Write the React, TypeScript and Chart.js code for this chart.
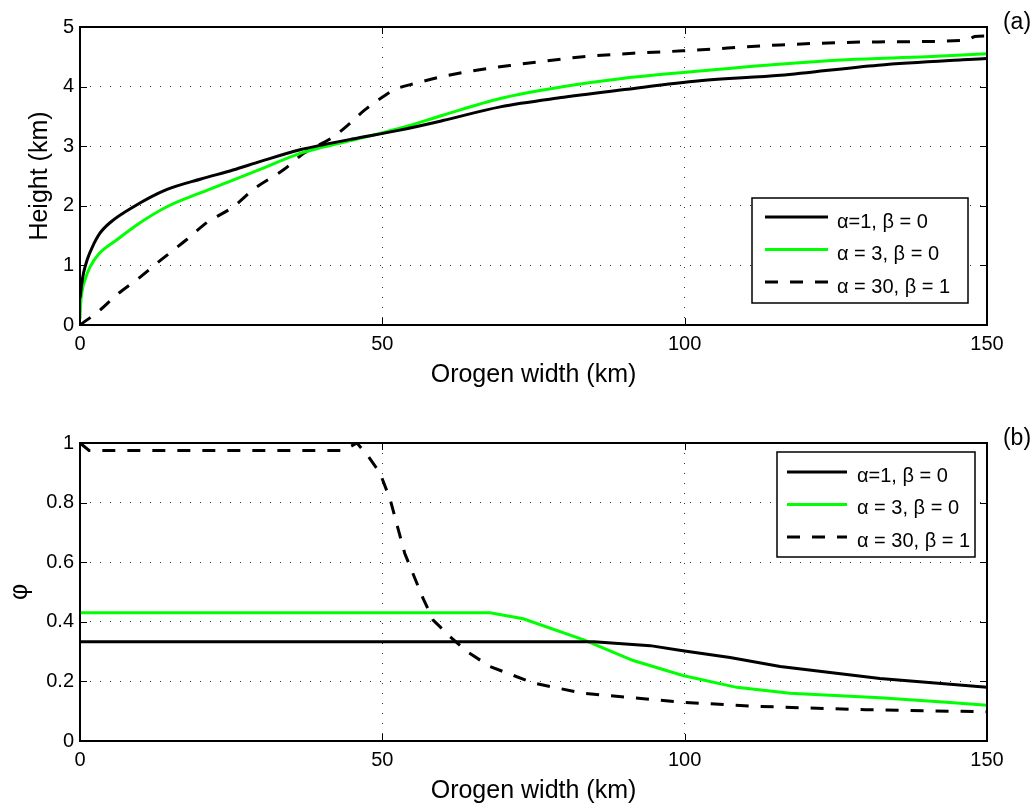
import React, { useEffect, useRef } from "react";
import { Chart, registerables } from "chart.js";

Chart.register(...registerables);

const FONT = "'Liberation Sans', Arial, Helvetica, sans-serif";

// ---- shared series meta ----
const seriesLabels = ["α=1, β = 0", "α = 3, β = 0", "α = 30, β = 1"];
const seriesColors = ["#000000", "#00ff00", "#000000"];
const seriesDashes: number[][] = [[], [], [13, 12]];

// ---- ticks ----
const xTicks = [0, 50, 100, 150];
const heightTicks = [0, 1, 2, 3, 4, 5];
const phiTicks = [0, 0.2, 0.4, 0.6, 0.8, 1];

// ---- panel (a): height (km) vs orogen width (km) ----
const heightA1X = [0, 0.3, 0.6, 1.2, 2, 3.3, 5, 8.8, 14.3, 20, 25.3, 30, 36.4, 40, 45, 52.9, 60, 69.5, 80, 90, 102.5, 115.8, 132, 146, 150];
const heightA1Y = [0.45, 0.7, 0.88, 1.1, 1.3, 1.54, 1.72, 1.98, 2.27, 2.45, 2.6, 2.75, 2.94, 3.02, 3.12, 3.27, 3.43, 3.66, 3.82, 3.95, 4.1, 4.19, 4.36, 4.45, 4.47];

const heightA3X = [0, 0.1, 0.4, 0.8, 1.65, 3, 6.1, 10, 14.3, 20, 25.3, 30, 36.4, 40, 45, 52.9, 60, 69.5, 80, 90, 102.5, 115, 126.8, 140, 150];
const heightA3Y = [0.1, 0.35, 0.6, 0.75, 0.97, 1.18, 1.43, 1.72, 1.98, 2.22, 2.43, 2.62, 2.88, 2.98, 3.1, 3.3, 3.52, 3.8, 4.0, 4.14, 4.26, 4.37, 4.45, 4.5, 4.55];

const heightA30X = [0, 3.3, 6, 9.9, 13.5, 17.6, 21, 25.3, 29, 33.6, 37, 41.8, 44.6, 47, 50.1, 52, 55.7, 60, 64, 71.6, 83.2, 91.5, 99.7, 115.8, 132, 146.7, 148, 150];
const heightA30Y = [0, 0.25, 0.5, 0.8, 1.1, 1.43, 1.72, 1.98, 2.3, 2.6, 2.88, 3.15, 3.38, 3.6, 3.83, 3.95, 4.06, 4.17, 4.25, 4.36, 4.5, 4.56, 4.6, 4.7, 4.75, 4.78, 4.84, 4.85];

// ---- panel (b): phi vs orogen width (km) ----
const phiA1X = [0, 85, 94.3, 99.7, 107.5, 115.8, 132.3, 150];
const phiA1Y = [0.333, 0.333, 0.32, 0.303, 0.28, 0.25, 0.21, 0.18];

const phiA3X = [0, 67.8, 73.3, 83.2, 91.5, 99.7, 108.6, 117.4, 132.3, 143.3, 150];
const phiA3Y = [0.43, 0.43, 0.41, 0.34, 0.27, 0.22, 0.18, 0.16, 0.145, 0.13, 0.12];

const phiA30X = [0, 1.5, 43.5, 45.8, 47.5, 49.6, 51.3, 53.7, 56.7, 58.4, 61.2, 64, 67.8, 74.9, 83.2, 94.3, 99.7, 110.8, 130, 150];
const phiA30Y = [1.0, 0.975, 0.975, 1.0, 0.96, 0.9, 0.81, 0.63, 0.48, 0.406, 0.35, 0.3, 0.25, 0.195, 0.16, 0.14, 0.13, 0.117, 0.105, 0.098];

function makeDatasets(xs: number[][], ys: number[][], smooth: boolean) {
  return xs.map((xArr, k) => ({
    label: seriesLabels[k],
    data: xArr.map((x, i) => ({ x, y: ys[k][i] })),
    borderColor: seriesColors[k],
    backgroundColor: seriesColors[k],
    borderWidth: 3,
    borderDash: seriesDashes[k],
    pointRadius: 0,
    tension: smooth ? 0.4 : 0,
    cubicInterpolationMode: smooth ? "monotone" : "default",
    fill: false,
  }));
}

const framePlugin = {
  id: "frame",
  afterDatasetsDraw(chart: any) {
    const { ctx, chartArea: a, scales } = chart;
    ctx.save();
    ctx.setLineDash([]);
    ctx.strokeStyle = "#000";
    ctx.lineWidth = 1;
    const tl = 7;
    const seg = (x1: number, y1: number, x2: number, y2: number) => {
      ctx.beginPath();
      ctx.moveTo(x1, y1);
      ctx.lineTo(x2, y2);
      ctx.stroke();
    };
    scales.x.ticks.forEach((t: any) => {
      const px = Math.round(scales.x.getPixelForValue(t.value)) + 0.5;
      seg(px, a.bottom, px, a.bottom - tl);
      seg(px, a.top, px, a.top + tl);
    });
    scales.y.ticks.forEach((t: any) => {
      const py = Math.round(scales.y.getPixelForValue(t.value)) + 0.5;
      seg(a.left, py, a.left + tl, py);
      seg(a.right, py, a.right - tl, py);
    });
    ctx.lineWidth = 2;
    ctx.strokeRect(a.left, a.top, a.right - a.left, a.bottom - a.top);
    ctx.restore();
  },
};

const boxLegendPlugin = {
  id: "boxLegend",
  afterDraw(chart: any, _args: any, g: any) {
    if (!g || g.width == null) return;
    const { ctx } = chart;
    ctx.save();
    ctx.setLineDash([]);
    ctx.fillStyle = "#fff";
    ctx.fillRect(g.left, g.top, g.width, g.height);
    ctx.lineWidth = 1.5;
    ctx.strokeStyle = "#000";
    ctx.strokeRect(g.left, g.top, g.width, g.height);
    chart.data.datasets.forEach((ds: any, i: number) => {
      const y = g.firstRow + i * g.rowGap;
      ctx.beginPath();
      ctx.setLineDash(ds.borderDash || []);
      ctx.strokeStyle = ds.borderColor;
      ctx.lineWidth = 3;
      ctx.moveTo(g.lineX, y);
      ctx.lineTo(g.lineX + g.lineLen, y);
      ctx.stroke();
      ctx.setLineDash([]);
      ctx.fillStyle = "#000";
      ctx.font = `20px ${FONT}`;
      ctx.textBaseline = "middle";
      ctx.textAlign = "left";
      ctx.fillText(ds.label, g.textX, y + g.textDy);
    });
    ctx.restore();
  },
};

type PanelProps = {
  top: number;
  height: number;
  padTop: number;
  xAxisHeight: number;
  datasets: any[];
  yTicks: number[];
  yMax: number;
  yTitle: string;
  yTitlePad: number;
  xTitlePad: number;
  legend: any;
};

function Panel(p: PanelProps) {
  const ref = useRef<HTMLCanvasElement | null>(null);
  useEffect(() => {
    if (!ref.current) return;
    const chart = new Chart(ref.current, {
      type: "line",
      data: { datasets: p.datasets },
      plugins: [framePlugin, boxLegendPlugin],
      options: {
        animation: false,
        responsive: false,
        maintainAspectRatio: false,
        events: [],
        layout: { padding: { left: 0, right: 49, top: p.padTop, bottom: 0 } },
        plugins: {
          legend: { display: false },
          tooltip: { enabled: false },
          boxLegend: p.legend,
        } as any,
        scales: {
          x: {
            type: "linear",
            min: 0,
            max: 150,
            afterBuildTicks: (s: any) => {
              s.ticks = xTicks.map((v) => ({ value: v }));
            },
            afterFit: (s: any) => {
              s.height = p.xAxisHeight;
            },
            ticks: {
              autoSkip: false,
              maxRotation: 0,
              padding: 7,
              color: "#000",
              font: { family: FONT, size: 20 },
              callback: (v: any) => String(v),
            },
            grid: { color: "#333", lineWidth: 1, drawTicks: false, borderDash: [1, 9] } as any,
            border: { display: false, dash: [1, 9] },
            title: {
              display: true,
              text: "Orogen width (km)",
              color: "#000",
              font: { family: FONT, size: 25, lineHeight: 1 },
              padding: { top: 0, bottom: p.xTitlePad },
            },
          },
          y: {
            type: "linear",
            min: 0,
            max: p.yMax,
            afterBuildTicks: (s: any) => {
              s.ticks = p.yTicks.map((v) => ({ value: v }));
            },
            afterFit: (s: any) => {
              s.width = 80;
            },
            ticks: {
              padding: 6,
              color: "#000",
              font: { family: FONT, size: 20 },
              callback: (v: any) => String(v),
            },
            grid: { color: "#333", lineWidth: 1, drawTicks: false, borderDash: [1, 9] } as any,
            border: { display: false, dash: [1, 9] },
            title: {
              display: true,
              text: p.yTitle,
              color: "#000",
              font: { family: FONT, size: 25, lineHeight: 1 },
              padding: { top: p.yTitlePad, bottom: 0 },
            },
          },
        },
      },
    } as any);
    return () => chart.destroy();
  }, []);
  return (
    <canvas
      ref={ref}
      width={1036}
      height={p.height}
      style={{ position: "absolute", left: 0, top: p.top, width: 1036, height: p.height, display: "block" }}
    />
  );
}

const labelStyle = (x: number, y: number): React.CSSProperties => ({
  position: "absolute",
  left: x,
  top: y,
  transform: "translate(-50%, -50%)",
  fontFamily: FONT,
  fontSize: 23,
  color: "#000",
  lineHeight: 1,
  whiteSpace: "nowrap",
});

export default function App() {
  const dsA = makeDatasets([heightA1X, heightA3X, heightA30X], [heightA1Y, heightA3Y, heightA30Y], true);
  const dsB = makeDatasets([phiA1X, phiA3X, phiA30X], [phiA1Y, phiA3Y, phiA30Y], false);
  return (
    <div
      style={{
        position: "absolute",
        left: 0,
        top: 0,
        width: 1036,
        height: 804,
        overflow: "hidden",
        background: "#fff",
      }}
    >
      <Panel
        top={0}
        height={400}
        padTop={27}
        xAxisHeight={75}
        datasets={dsA}
        yTicks={heightTicks}
        yMax={5}
        yTitle="Height (km)"
        yTitlePad={27.5}
        xTitlePad={12.5}
        legend={{ left: 752, top: 198, width: 216, height: 105, lineX: 765, lineLen: 63, textX: 837, firstRow: 217, rowGap: 32.5, textDy: 5 }}
      />
      <Panel
        top={410}
        height={394}
        padTop={33}
        xAxisHeight={63}
        datasets={dsB}
        yTicks={phiTicks}
        yMax={1}
        yTitle="φ"
        yTitlePad={7.5}
        xTitlePad={0}
        legend={{ left: 777, top: 42, width: 198, height: 105, lineX: 787, lineLen: 60, textX: 857, firstRow: 62, rowGap: 32.5, textDy: 4 }}
      />
      <div style={labelStyle(1017, 21)}>(a)</div>
      <div style={labelStyle(1017, 437)}>(b)</div>
    </div>
  );
}
